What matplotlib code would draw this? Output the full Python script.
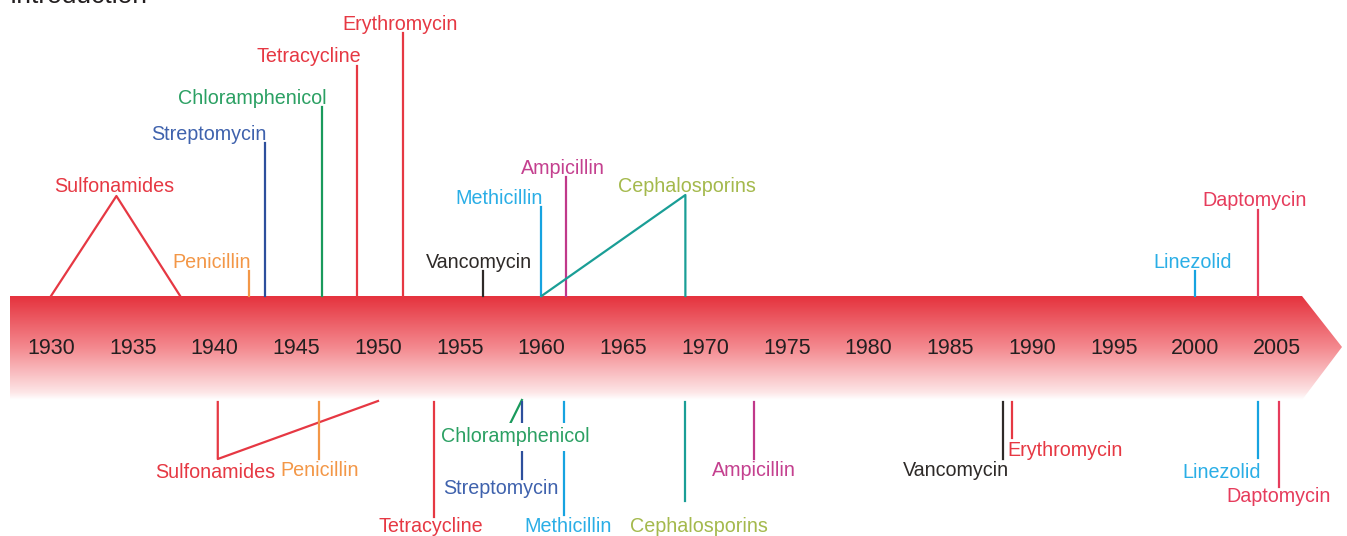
import matplotlib
matplotlib.use('Agg')
import matplotlib.pyplot as plt
import numpy as np
from matplotlib.colors import LinearSegmentedColormap
from matplotlib.patches import Polygon

plt.rcParams['font.family'] = ['Liberation Sans', 'DejaVu Sans']

# 年份刻度
years = [1930, 1935, 1940, 1945, 1950, 1955, 1960, 1965, 1970, 1975, 1980, 1985, 1990, 1995, 2000, 2005]

# 上方：抗生素引入
intro_names = ['Sulfonamides', 'Penicillin', 'Streptomycin', 'Chloramphenicol', 'Tetracycline',
               'Erythromycin', 'Vancomycin', 'Methicillin', 'Ampicillin', 'Cephalosporins',
               'Linezolid', 'Daptomycin']
intro_years = [1934, 1942.1, 1943.1, 1946.6, 1948.7, 1951.5, 1956.4, 1960, 1961.5, 1968.8, 2000, 2003.8]

# 下方：耐药出现
res_names = ['Sulfonamides', 'Penicillin', 'Tetracycline', 'Chloramphenicol', 'Streptomycin',
             'Methicillin', 'Cephalosporins', 'Ampicillin', 'Vancomycin', 'Erythromycin',
             'Linezolid', 'Daptomycin']
res_years = [1940.2, 1946.4, 1953.4, 1958.8, 1958.8, 1961.4, 1968.8, 1973, 1988.2, 1988.8, 2003.8, 2005.1]

# 颜色（线条色, 文字色）
RED = '#e63843'
colors = {
    'Sulfonamides': (RED, RED), 'Penicillin': ('#f39747', '#f39747'),
    'Streptomycin': ('#2d4f9c', '#3f62ad'), 'Chloramphenicol': ('#1a9a5c', '#2ba063'),
    'Tetracycline': (RED, RED), 'Erythromycin': (RED, RED),
    'Vancomycin': ('#2e2a28', '#2e2a28'), 'Methicillin': ('#16a3e0', '#2aaee6'),
    'Ampicillin': ('#c0388a', '#c4408f'), 'Cephalosporins': ('#1a9e96', '#a4b94c'),
    'Linezolid': ('#16a3e0', '#2aaee6'), 'Daptomycin': ('#e63c5c', '#e63c5c'),
}

# 布局（像素 y，向下为正）
BAND_TOP, BAND_BOT = 296, 400
intro_tops = [196, 271, 143, 107, 66, 33, 271, 207, 177, 195, 271, 210]
intro_lab = [(1933.85, 'center'), (1942.25, 'right'), (1943.2, 'right'), (1946.85, 'right'),
             (1948.95, 'right'), (1951.35, 'center'), (1956.18, 'center'), (1960.1, 'right'),
             (1961.3, 'center'), (1968.9, 'center'), (1999.85, 'center'), (2003.64, 'center')]
res_bots = [459, 459, 517, 428, 479, 515, 501, 459, 459, 438, 458, 487]
res_lab = [(1940.03, 472, 'center'), (1946.45, 471, 'center'), (1953.24, 526, 'center'),
           (1958.38, 437, 'center'), (1957.52, 488, 'center'), (1961.62, 526, 'center'),
           (1969.63, 526, 'center'), (1973.0, 471, 'center'), (1988.6, 471, 'right'),
           (1988.5, 451, 'left'), (2003.98, 472, 'right'), (2005.05, 497, 'center')]

PX = 16.35  # 每年像素
x0 = 1930 - 51 / PX
x1 = 1930 + (1347 - 51) / PX

fig = plt.figure(figsize=(13.47, 5.36), dpi=100)
ax = fig.add_axes([0, 0, 1, 1])
ax.set_xlim(x0, x1)
ax.set_ylim(536, 0)
ax.axis('off')

# 渐变箭头
bx0 = 1930 + (10 - 51) / PX
bx1 = 1930 + (1302 - 51) / PX
btip = 1930 + (1342 - 51) / PX
cmap = LinearSegmentedColormap.from_list('band', [(0, '#e5333e'), (0.5, '#f48a90'), (0.93, '#fde6e7'), (1, '#ffffff')])
grad = np.linspace(0, 1, 200).reshape(-1, 1)
im = ax.imshow(grad, cmap=cmap, aspect='auto', extent=(bx0, btip, BAND_BOT, BAND_TOP), origin='upper', zorder=1)
arrow = Polygon([(bx0, BAND_TOP), (bx1, BAND_TOP), (btip, 347), (bx1, BAND_BOT), (bx0, BAND_BOT)],
                closed=True, facecolor='none', edgecolor='none', transform=ax.transData)
ax.add_patch(arrow)
im.set_clip_path(arrow)

for y in years:
    ax.text(y, 348, str(y), ha='center', va='center', fontsize=15.5, color='#231f20', zorder=3)

lw = 1.6
FS = 14.2
# 上方
for name, yr, top, (lx, ha) in zip(intro_names, intro_years, intro_tops, intro_lab):
    lc, tc = colors[name]
    if name == 'Sulfonamides':
        ax.plot([1930, yr, 1937.9], [BAND_TOP, top, BAND_TOP], color=lc, lw=lw, zorder=2)
    elif name == 'Cephalosporins':
        ax.plot([1960, yr, yr], [BAND_TOP, top, BAND_TOP], color=lc, lw=lw, zorder=2)
    else:
        ax.plot([yr, yr], [top, BAND_TOP], color=lc, lw=lw, zorder=2)
    ax.text(lx, top - 9, name, ha=ha, va='center', fontsize=FS, color=tc, zorder=4)

# 下方
for name, yr, bot, (lx, ly, ha) in zip(res_names, res_years, res_bots, res_lab):
    lc, tc = colors[name]
    if name == 'Sulfonamides':
        ax.plot([1950, yr, yr], [401, bot, 402], color=lc, lw=lw, zorder=2)
    elif name == 'Chloramphenicol':
        ax.plot([yr, yr - 0.85], [400, bot], color=lc, lw=lw, zorder=2)
    else:
        ax.plot([yr, yr], [402, bot], color=lc, lw=lw, zorder=2)
    bbox = None
    if name == 'Chloramphenicol':
        bbox = dict(facecolor='white', edgecolor='none', pad=3)
    ax.text(lx, ly, name, ha=ha, va='center', fontsize=FS, color=tc, zorder=4, bbox=bbox)

ax.text(bx0, 3, 'Introduction', ha='left', va='baseline', fontsize=19, color='#231f20')

fig.savefig('out.png', dpi=100)
